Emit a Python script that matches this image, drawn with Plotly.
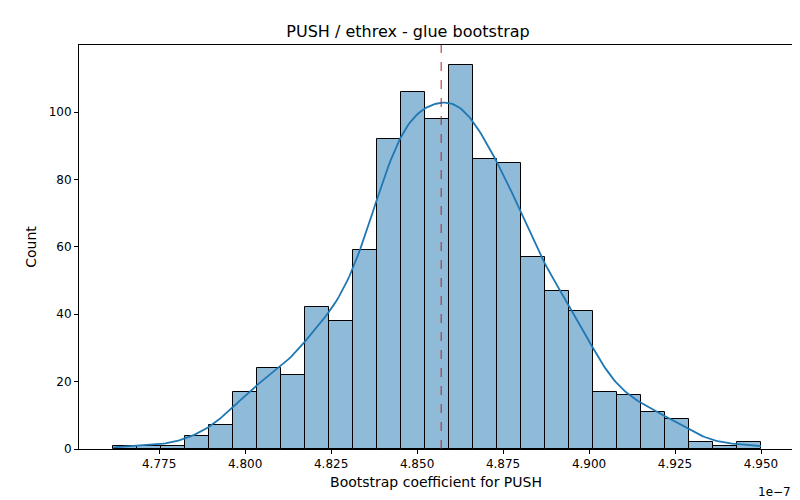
import numpy as np
import plotly.graph_objects as go

# data (x in units of 1e-7)
x_min, x_max = 4.7617, 4.9500
counts = [1,1,1,4,7,17,24,22,42,38,59,92,106,98,114,86,85,57,47,41,17,16,11,9,2,1,2]
mean_val = 4.8570
xticks = [4.775,4.800,4.825,4.850,4.875,4.900,4.925,4.950]
yticks = [0,20,40,60,80,100]

nb = len(counts)
w = (x_max - x_min) / nb
centers = x_min + w * (np.arange(nb) + 0.5)
c = np.array(counts, float)
N = c.sum()
mu = (centers * c).sum() / N
sd = np.sqrt(((centers - mu) ** 2 * c).sum() / N)
bw = sd * N ** (-0.2)
xs = np.linspace(x_min, x_max, 300)
dens = (c[None, :] * np.exp(-0.5 * ((xs[:, None] - centers[None, :]) / bw) ** 2)).sum(1) / (N * bw * np.sqrt(2 * np.pi))
kde = dens * N * w

fig = go.Figure()
fig.add_bar(x=centers, y=counts, width=w, marker=dict(color="#8fbbd9", line=dict(color="black", width=1)))
fig.add_scatter(x=xs, y=kde, mode="lines", line=dict(color="#1f77b4", width=1.8))
fig.add_shape(type="line", x0=mean_val, x1=mean_val, y0=0, y1=1, yref="paper",
              line=dict(color="#b22222", width=1, dash="dash"))
axis = dict(showgrid=False, zeroline=False, showline=True, mirror=True, linecolor="black",
            ticks="outside", ticklen=4, tickcolor="black")
fig.update_layout(
    width=800, height=500, showlegend=False, plot_bgcolor="white", paper_bgcolor="white",
    font=dict(family="DejaVu Sans", size=12, color="black"),
    margin=dict(l=71, r=15, t=37, b=59), bargap=0,
    title=dict(text="PUSH / ethrex - glue bootstrap", x=0.5, y=0.965, xanchor="center", font=dict(size=16)),
    xaxis=dict(axis, range=[4.7517, 4.9593], tickvals=xticks, ticktext=[f"{v:.3f}" for v in xticks],
               title=dict(text="Bootstrap coefficient for PUSH", standoff=6)),
    yaxis=dict(axis, range=[0, 119.9], tickvals=yticks, title=dict(text="Count", standoff=8)),
)
fig.add_annotation(text="1e−7", x=1, y=-0.085, xref="paper", yref="paper", showarrow=False,
                   xanchor="right", yanchor="top", font=dict(size=12))
fig.write_html("out.html")
